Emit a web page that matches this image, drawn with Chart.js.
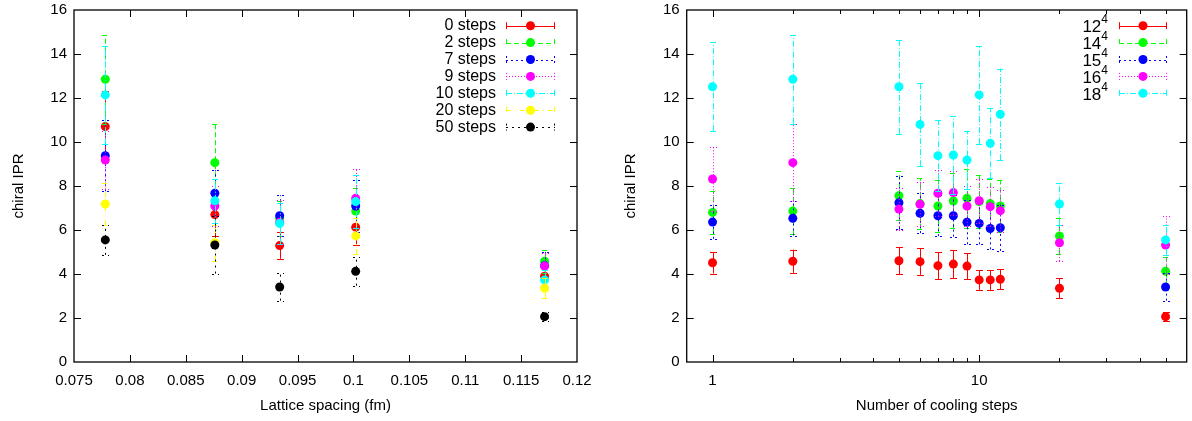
<!DOCTYPE html>
<html><head><meta charset="utf-8">
<script src="https://cdn.jsdelivr.net/npm/chart.js@4.4.1/dist/chart.umd.min.js"></script>
<style>
html,body{margin:0;padding:0;background:#fff;}
#wrap{position:relative;width:1192px;height:421px;overflow:hidden;}
.box{position:absolute;top:0;height:421px;width:596px;}
</style></head><body>
<div id="wrap">
<div class="box" style="left:0"><canvas id="c1"></canvas></div>
<div class="box" style="left:596px"><canvas id="c2"></canvas></div>
</div>
<script>
// ---- data ----
const steps = [0, 1, 2, 5, 6, 7, 8, 9, 10, 11, 12, 20, 50];
const lattices = ['12', '14', '15', '16', '18'];
const spacing = [0.1171, 0.1002, 0.0934, 0.0876, 0.0778];
const ipr12 = [3.90, 4.51, 4.58, 4.60, 4.56, 4.38, 4.45, 4.36, 3.73, 3.73, 3.76, 3.35, 2.06];
const err12 = [0.50, 0.49, 0.53, 0.61, 0.60, 0.62, 0.63, 0.59, 0.45, 0.45, 0.45, 0.45, 0.20];
const ipr14 = [6.13, 6.80, 6.86, 7.56, 7.20, 7.09, 7.32, 7.44, 7.29, 7.20, 7.09, 5.73, 4.12];
const err14 = [0.80, 0.98, 1.03, 1.10, 1.15, 1.20, 1.25, 1.35, 1.20, 1.10, 1.20, 0.83, 0.65];
const ipr15 = [5.29, 6.36, 6.53, 7.24, 6.76, 6.65, 6.65, 6.35, 6.30, 6.07, 6.10, null, 3.41];
const err15 = [0.60, 0.76, 0.78, 1.20, 0.90, 0.93, 0.95, 1.00, 0.95, 0.95, 1.05, null, 0.62];
const ipr16 = [6.70, 8.32, 9.06, 6.95, 7.17, 7.67, 7.70, 7.09, 7.33, 7.06, 6.88, 5.42, 5.32];
const err16 = [0.97, 1.47, 1.75, 0.95, 1.00, 1.05, 1.00, 0.90, 1.00, 0.90, 0.95, 0.83, 1.30];
const ipr18 = [10.70, 12.51, 12.85, 12.51, 10.80, 9.38, 9.41, 9.18, 12.14, 9.94, 11.26, 7.18, 5.55];
const err18 = [1.62, 2.02, 2.02, 2.14, 1.90, 1.62, 1.76, 1.33, 2.24, 1.59, 2.08, 0.97, 0.68];
const leftSteps = [0, 2, 7, 9, 10, 20, 50];
const leftXTicks = [0.075, 0.08, 0.085, 0.09, 0.095, 0.1, 0.105, 0.11, 0.115, 0.12];
const rightXTicks = [1, 2, 3, 4, 5, 6, 7, 8, 9, 10, 20, 30, 40, 50];
const rightXLabels = [1, 10];
const yTicks = [0, 2, 4, 6, 8, 10, 12, 14, 16];

// ---- styles ----
const palette = ['#ff0000', '#00ff00', '#0000ff', '#ff00ff', '#00ffff', '#ffff00', '#000000'];
const dashes = [[], [5, 3], [2, 3], [1, 2], [6, 2, 1, 2], [5, 4, 1, 4], [2, 4]];
const FONT = 'Liberation Sans, Arial, Helvetica, sans-serif';
const FS = 15;
const PR = 4.5;

const iprTable = [ipr12, ipr14, ipr15, ipr16, ipr18];
const errTable = [err12, err14, err15, err16, err18];

// Left: series per cooling step, x = lattice spacing
const leftDatasets = leftSteps.map((s, i) => {
  const k = steps.indexOf(s);
  const pts = [], errs = [];
  spacing.forEach((a, j) => {
    const v = iprTable[j][k];
    if (v !== null) { pts.push({x: a, y: v}); errs.push(errTable[j][k]); }
  });
  return {label: s + ' steps', data: pts, errs: errs, color: palette[i], dash: dashes[i],
    backgroundColor: palette[i], borderColor: palette[i], pointRadius: PR, pointHoverRadius: PR,
    pointBorderWidth: 0, showLine: false, order: leftSteps.length - 1 - i};
});
// Right: series per lattice, x = cooling steps (log)
const rightDatasets = lattices.map((L, j) => {
  const pts = [], errs = [];
  steps.forEach((s, k) => {
    const v = iprTable[j][k];
    if (s > 0 && v !== null) { pts.push({x: s, y: v}); errs.push(errTable[j][k]); }
  });
  return {label: L, sup: '4', data: pts, errs: errs, color: palette[j], dash: dashes[j],
    backgroundColor: palette[j], borderColor: palette[j], pointRadius: PR, pointHoverRadius: PR,
    pointBorderWidth: 0, showLine: false, order: lattices.length - 1 - j};
});

const errPlugin = {
  id: 'errbars',
  beforeDatasetDraw(chart, args) {
    const ds = chart.data.datasets[args.index];
    const xs = chart.scales.x, ys = chart.scales.y, ctx = chart.ctx;
    ctx.save();
    ctx.strokeStyle = ds.color; ctx.lineWidth = 1; ctx.setLineDash(ds.dash);
    ds.data.forEach((p, i) => {
      const e = ds.errs[i];
      const px = Math.round(xs.getPixelForValue(p.x)) + 0.5;
      const y1 = ys.getPixelForValue(p.y - e), y2 = ys.getPixelForValue(p.y + e);
      ctx.beginPath();
      ctx.moveTo(px, y1); ctx.lineTo(px, y2);
      ctx.moveTo(px - 3.5, Math.round(y1) + 0.5); ctx.lineTo(px + 3.5, Math.round(y1) + 0.5);
      ctx.moveTo(px - 3.5, Math.round(y2) + 0.5); ctx.lineTo(px + 3.5, Math.round(y2) + 0.5);
      ctx.stroke();
    });
    ctx.restore();
  }
};

const framePlugin = {
  id: 'frame',
  afterDatasetsDraw(chart) {
    const {ctx, chartArea: a} = chart;
    const xs = chart.scales.x, ys = chart.scales.y;
    ctx.save();
    ctx.strokeStyle = '#000'; ctx.lineWidth = 1.3; ctx.setLineDash([]);
    ctx.strokeRect(a.left, a.top, a.right - a.left, a.bottom - a.top);
    ctx.lineWidth = 1;
    ctx.beginPath();
    ys.ticks.forEach(t => {
      const y = Math.round(ys.getPixelForValue(t.value)) + 0.5;
      if (t.value === ys.min || t.value === ys.max) return;
      ctx.moveTo(a.left, y); ctx.lineTo(a.left + 7, y);
      ctx.moveTo(a.right, y); ctx.lineTo(a.right - 7, y);
    });
    xs.ticks.forEach(t => {
      if (t.value <= xs.min || t.value >= xs.max) return;
      const x = Math.round(xs.getPixelForValue(t.value)) + 0.5;
      const len = (xs.type === 'logarithmic' && !t.major) ? 4 : 7;
      ctx.moveTo(x, a.bottom); ctx.lineTo(x, a.bottom - len);
      ctx.moveTo(x, a.top); ctx.lineTo(x, a.top + len);
    });
    ctx.stroke();
    ctx.restore();
  }
};

const legendPlugin = {
  id: 'mylegend',
  afterDraw(chart, args, opts) {
    const ctx = chart.ctx;
    ctx.save();
    chart.data.datasets.forEach((ds, i) => {
      const y = opts.top + i * opts.gap;
      const x0 = opts.lineLeft, x1 = opts.lineRight, xm = (x0 + x1) / 2;
      ctx.strokeStyle = ds.color; ctx.lineWidth = 1; ctx.setLineDash(ds.dash);
      ctx.beginPath();
      ctx.moveTo(x0, Math.round(y) + 0.5); ctx.lineTo(x1, Math.round(y) + 0.5);
      ctx.moveTo(x0 + 0.5, y - 3.5); ctx.lineTo(x0 + 0.5, y + 3.5);
      ctx.moveTo(x1 - 0.5, y - 3.5); ctx.lineTo(x1 - 0.5, y + 3.5);
      ctx.stroke();
      ctx.setLineDash([]);
      ctx.fillStyle = ds.color;
      ctx.beginPath(); ctx.arc(xm, y, PR, 0, Math.PI * 2); ctx.fill();
      ctx.fillStyle = '#000'; ctx.textAlign = 'right'; ctx.textBaseline = 'middle';
      let tx = opts.textRight;
      if (ds.sup) {
        ctx.font = (opts.fs - 5) + 'px ' + FONT;
        ctx.fillText(ds.sup, tx, y - 6);
        tx -= ctx.measureText(ds.sup).width;
      }
      ctx.font = opts.fs + 'px ' + FONT;
      ctx.fillText(ds.label, tx, y + (ds.sup ? 2 : 0));
    });
    ctx.restore();
  }
};

function makeOptions(xcfg, yWidth, padRight, yTitlePad, legendOpts) {
  return {
    responsive: false, animation: false, devicePixelRatio: 1,
    layout: {padding: {top: 10, right: padRight, left: 0, bottom: 0}},
    plugins: {legend: {display: false}, tooltip: {enabled: false}, mylegend: legendOpts},
    scales: {
      x: Object.assign({
        grid: {display: false, drawTicks: false}, border: {display: false},
        afterFit(s) { s.height = 59; s.paddingLeft = 0; s.paddingRight = 0; }
      }, xcfg),
      y: {
        type: 'linear', min: 0, max: 16,
        afterBuildTicks(s) { s.ticks = yTicks.map(v => ({value: v})); },
        ticks: {padding: 7, color: '#000', font: {family: FONT, size: FS}},
        grid: {display: false, drawTicks: false}, border: {display: false},
        title: {display: true, text: 'chiral IPR', color: '#000', font: {family: FONT, size: FS}, padding: {top: yTitlePad, bottom: 0}},
        afterFit(s) { s.width = yWidth; s.paddingTop = 0; s.paddingBottom = 0; }
      }
    }
  };
}

Chart.defaults.font.family = FONT;

const c1 = document.getElementById('c1'); c1.width = 596; c1.height = 421;
new Chart(c1, {
  type: 'scatter',
  data: {datasets: leftDatasets},
  options: makeOptions({
    type: 'linear', min: 0.075, max: 0.12,
    afterBuildTicks(s) { s.ticks = leftXTicks.map(v => ({value: v})); },
    ticks: {padding: 10, color: '#000', font: {family: FONT, size: FS}, maxRotation: 0, autoSkip: false,
      callback: v => String(Number(v.toFixed(3)))},
    title: {display: true, text: 'Lattice spacing (fm)', color: '#000', font: {family: FONT, size: FS}, padding: {top: 0, bottom: 6}}
  }, 74, 19, 10, {top: 25.7, gap: 16.9, lineLeft: 506, lineRight: 555, textRight: 496, fs: FS + 1}),
  plugins: [errPlugin, framePlugin, legendPlugin]
});

const c2 = document.getElementById('c2'); c2.width = 596; c2.height = 421;
new Chart(c2, {
  type: 'scatter',
  data: {datasets: rightDatasets},
  options: makeOptions({
    type: 'logarithmic', min: 0.8, max: 60,
    afterBuildTicks(s) { s.ticks = rightXTicks.map(v => ({value: v, major: rightXLabels.includes(v)})); },
    ticks: {padding: 10, color: '#000', font: {family: FONT, size: FS}, maxRotation: 0, autoSkip: false,
      callback: v => rightXLabels.includes(v) ? String(v) : ''},
    title: {display: true, text: 'Number of cooling steps', color: '#000', font: {family: FONT, size: FS}, padding: {top: 0, bottom: 6}}
  }, 90.7, 5.3, 26, {top: 25.7, gap: 16.9, lineLeft: 523, lineRight: 571, textRight: 512, fs: FS + 2}),
  plugins: [errPlugin, framePlugin, legendPlugin]
});
</script>
</body></html>
